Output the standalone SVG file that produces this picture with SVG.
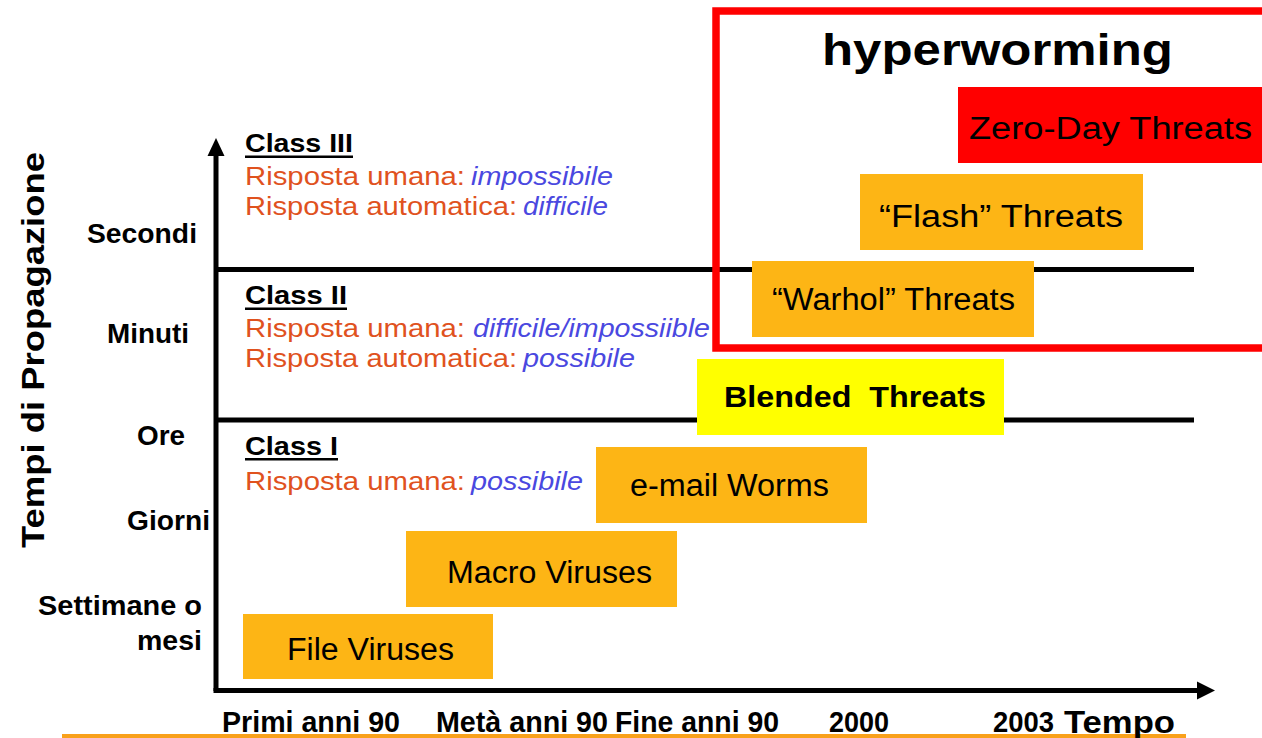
<svg xmlns="http://www.w3.org/2000/svg" width="1262" height="738" viewBox="0 0 1262 738">
<style>
text{font-family:"Liberation Sans",Arial,sans-serif;fill:#000}
.b{font-weight:bold}
.lbl{font-weight:bold;font-size:27px}
.cls{font-weight:bold;font-size:26px}
.or{fill:#E0521E;font-size:26px}
.bl{fill:#4A48E0;font-size:26px;font-style:italic}
.box{fill:#FDB515}
.bt{font-size:31px}
.ax{font-weight:bold;font-size:29px}
.line{stroke:#000;stroke-width:5;fill:none}
</style>
<rect width="1262" height="738" fill="#fff"/>
<g id="connectors">
<line class="line" x1="216" y1="152" x2="216" y2="691"/>
<polygon points="216,138 207.5,156 224.5,156" fill="#000"/>
<line class="line" x1="213.5" y1="690.5" x2="1199" y2="690.5"/>
<polygon points="1215,690.5 1197,681.5 1197,699.5" fill="#000"/>
<line class="line" x1="216" y1="269.5" x2="1194" y2="269.5"/>
<line class="line" x1="216" y1="420" x2="1194" y2="420"/>
</g>
<rect x="62" y="734" width="1124" height="4" fill="#F9A11B"/>
<text class="b" font-size="32" transform="translate(44,548) rotate(-90)" textLength="396" lengthAdjust="spacingAndGlyphs">Tempi di Propagazione</text>
<g id="ylabels">
<text class="lbl" x="87" y="243" textLength="110" lengthAdjust="spacingAndGlyphs">Secondi</text>
<text class="lbl" x="107" y="343" textLength="82" lengthAdjust="spacingAndGlyphs">Minuti</text>
<text class="lbl" x="137" y="445" textLength="48" lengthAdjust="spacingAndGlyphs">Ore</text>
<text class="lbl" x="127" y="530" textLength="83" lengthAdjust="spacingAndGlyphs">Giorni</text>
<text class="lbl" x="38" y="615" textLength="164" lengthAdjust="spacingAndGlyphs">Settimane o</text>
<text class="lbl" x="137" y="650" textLength="65" lengthAdjust="spacingAndGlyphs">mesi</text>
</g>
<g id="xlabels">
<text class="ax" x="222" y="732" textLength="178" lengthAdjust="spacingAndGlyphs">Primi anni 90</text>
<text class="ax" x="436" y="732" textLength="172" lengthAdjust="spacingAndGlyphs">Metà anni 90</text>
<text class="ax" x="615" y="732" textLength="164" lengthAdjust="spacingAndGlyphs">Fine anni 90</text>
<text class="ax" x="829" y="732" textLength="60" lengthAdjust="spacingAndGlyphs">2000</text>
<text class="ax" x="993" y="732" textLength="61" lengthAdjust="spacingAndGlyphs">2003</text>
<text class="b" font-size="32" x="1064" y="733" textLength="111" lengthAdjust="spacingAndGlyphs">Tempo</text>
</g>
<g id="class3">
<text class="cls" x="245" y="152" textLength="108" lengthAdjust="spacingAndGlyphs">Class III</text>
<rect x="245" y="155.5" width="108" height="2.5" fill="#000"/>
<text class="or" x="245" y="185" textLength="220" lengthAdjust="spacingAndGlyphs">Risposta umana:</text>
<text class="bl" x="471" y="185" textLength="142" lengthAdjust="spacingAndGlyphs">impossibile</text>
<text class="or" x="245" y="215" textLength="272" lengthAdjust="spacingAndGlyphs">Risposta automatica:</text>
<text class="bl" x="523" y="215" textLength="85" lengthAdjust="spacingAndGlyphs">difficile</text>
</g>
<g id="class2">
<text class="cls" x="245" y="304" textLength="102" lengthAdjust="spacingAndGlyphs">Class II</text>
<rect x="245" y="307.5" width="102" height="2.5" fill="#000"/>
<text class="or" x="245" y="337" textLength="220" lengthAdjust="spacingAndGlyphs">Risposta umana:</text>
<text class="bl" x="473" y="337" textLength="237" lengthAdjust="spacingAndGlyphs">difficile/impossiible</text>
<text class="or" x="245" y="367" textLength="272" lengthAdjust="spacingAndGlyphs">Risposta automatica:</text>
<text class="bl" x="523" y="367" textLength="112" lengthAdjust="spacingAndGlyphs">possibile</text>
</g>
<g id="class1">
<text class="cls" x="245" y="455" textLength="93" lengthAdjust="spacingAndGlyphs">Class I</text>
<rect x="245" y="458" width="93" height="2.5" fill="#000"/>
<text class="or" x="245" y="490" textLength="220" lengthAdjust="spacingAndGlyphs">Risposta umana:</text>
<text class="bl" x="471" y="490" textLength="112" lengthAdjust="spacingAndGlyphs">possibile</text>
</g>
<g id="file-viruses">
<rect class="box" x="243" y="614" width="250" height="65"/>
<text class="bt" x="287" y="660" textLength="167" lengthAdjust="spacingAndGlyphs">File Viruses</text>
</g>
<g id="macro-viruses">
<rect class="box" x="406" y="531" width="271" height="76"/>
<text class="bt" x="447" y="583" textLength="205" lengthAdjust="spacingAndGlyphs">Macro Viruses</text>
</g>
<g id="email-worms">
<rect class="box" x="596" y="447" width="271" height="76"/>
<text class="bt" x="630" y="496" textLength="199" lengthAdjust="spacingAndGlyphs">e-mail Worms</text>
</g>
<g id="blended-threats">
<rect x="697" y="359" width="307" height="76" fill="#FFFF00"/>
<text class="b" font-size="29" x="724" y="407" textLength="262" lengthAdjust="spacingAndGlyphs" xml:space="preserve">Blended  Threats</text>
</g>
<g id="warhol-threats">
<rect class="box" x="752" y="261" width="282" height="76"/>
<text class="bt" x="772" y="310" textLength="243" lengthAdjust="spacingAndGlyphs">“Warhol” Threats</text>
</g>
<g id="flash-threats">
<rect class="box" x="860" y="174" width="283" height="76"/>
<text class="bt" x="879" y="227" textLength="244" lengthAdjust="spacingAndGlyphs">“Flash” Threats</text>
</g>
<g id="zero-day-threats">
<rect x="958" y="87" width="304" height="76" fill="#FF0000"/>
<text class="bt" font-size="32" x="969" y="139" textLength="283" lengthAdjust="spacingAndGlyphs">Zero-Day Threats</text>
</g>
<g id="hyperworming">
<rect x="716" y="11" width="600" height="337" fill="none" stroke="#FF0000" stroke-width="7.5"/>
<text class="b" font-size="45" x="822" y="65" textLength="351" lengthAdjust="spacingAndGlyphs">hyperworming</text>
</g>
</svg>
